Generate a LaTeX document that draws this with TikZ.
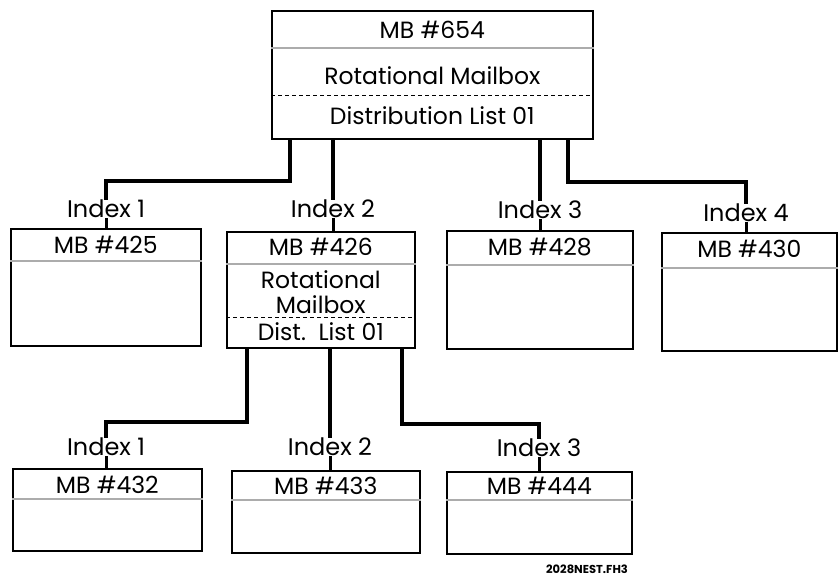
\documentclass[tikz,border=0pt]{standalone}
\usepackage{fontspec}
\setmainfont{Poppins}
\usepackage{tikz}

\tikzset{
  mbox/.style={draw, line width=1.6pt, anchor=north west, inner sep=0pt},
  title/.style={font=\fontsize{23.5}{25}\selectfont, inner sep=0pt},
  idxlabel/.style={font=\fontsize{24}{26}\selectfont, inner sep=0pt},
  link/.style={line width=4pt},
  tick/.style={line width=3pt},
  divider/.style={line width=1.6pt, gray!65},
  dashdiv/.style={line width=0.8pt, dash pattern=on 4pt off 3pt}
}

\begin{document}
\begin{tikzpicture}[x=1pt,y=-1pt]
        \useasboundingbox (0,0) rectangle (838,577);
        % Top mailbox
        \node[mbox, minimum width=321pt, minimum height=128pt] (mb654) at (271,10) {};
        \node[title] (t654) at ([yshift=-20pt]mb654.north) {MB \#654};
        \node[title] (r654) at ([yshift=-66pt]mb654.north) {Rotational Mailbox};
        \node[title] (d654) at ([yshift=-106pt]mb654.north) {Distribution List 01};
        \draw[divider] ([yshift=-38pt]mb654.north west) -- ([yshift=-38pt]mb654.north east);
        \draw[dashdiv] ([yshift=-85pt]mb654.north west) -- ([yshift=-85pt]mb654.north east);

        % Second row
        \node[mbox, minimum width=190pt, minimum height=117pt] (mb425) at (10,228) {};
        \node[title] (t425) at ([yshift=-17pt]mb425.north) {MB \#425};
        \draw[divider] ([yshift=-33pt]mb425.north west) -- ([yshift=-33pt]mb425.north east);

        \node[mbox, minimum width=188pt, minimum height=116pt] (mb426) at (226,231) {};
        \node[title] (t426) at ([yshift=-16pt]mb426.north) {MB \#426};
        \node[title, align=center] (r426) at ([yshift=-61pt]mb426.north) {Rotational\\Mailbox};
        \node[title] (d426) at ([yshift=-101pt]mb426.north) {Dist.\ \ List 01};
        \draw[divider] ([yshift=-33pt]mb426.north west) -- ([yshift=-33pt]mb426.north east);
        \draw[dashdiv] ([yshift=-86pt]mb426.north west) -- ([yshift=-86pt]mb426.north east);

        \node[mbox, minimum width=186pt, minimum height=118pt] (mb428) at (446,230) {};
        \node[title] (t428) at ([yshift=-17pt]mb428.north) {MB \#428};
        \draw[divider] ([yshift=-35pt]mb428.north west) -- ([yshift=-35pt]mb428.north east);

        \node[mbox, minimum width=175pt, minimum height=118pt] (mb430) at (661,232) {};
        \node[title] (t430) at ([yshift=-17pt]mb430.north) {MB \#430};
        \draw[divider] ([yshift=-36pt]mb430.north west) -- ([yshift=-36pt]mb430.north east);

        % Third row
        \node[mbox, minimum width=189pt, minimum height=82pt] (mb432) at (12,468) {};
        \node[title] (t432) at ([yshift=-17pt]mb432.north) {MB \#432};
        \draw[divider] ([yshift=-31pt]mb432.north west) -- ([yshift=-31pt]mb432.north east);

        \node[mbox, minimum width=188pt, minimum height=82pt] (mb433) at (231,470) {};
        \node[title] (t433) at ([yshift=-16pt]mb433.north) {MB \#433};
        \draw[divider] ([yshift=-30pt]mb433.north west) -- ([yshift=-30pt]mb433.north east);

        \node[mbox, minimum width=185pt, minimum height=82pt] (mb444) at (446,471) {};
        \node[title] (t444) at ([yshift=-15pt]mb444.north) {MB \#444};
        \draw[divider] ([yshift=-29pt]mb444.north west) -- ([yshift=-29pt]mb444.north east);

        % Index labels
        \node[idxlabel] (i1) at (106,209) {Index 1};
        \node[idxlabel] (i2) at (333,209) {Index 2};
        \node[idxlabel] (i3) at (540,210) {Index 3};
        \node[idxlabel] (i4) at (746,213) {Index 4};
        \node[idxlabel] (j1) at (106,447) {Index 1};
        \node[idxlabel] (j2) at (330,447) {Index 2};
        \node[idxlabel] (j3) at (539,448) {Index 3};

        % Connectors
        \draw[link] ([xshift=19pt]mb654.south west) -- ++(0,41) -| (i1.north);
        \draw[link] (mb654.south -| i2.north) -- (i2.north);
        \draw[link] (mb654.south -| i3.north) -- (i3.north);
        \draw[link] ([xshift=-26pt]mb654.south east) -- ++(0,42) -| (i4.north);
        \draw[link] ([xshift=21pt]mb426.south west) -- ++(0,73) -| (j1.north);
        \draw[link] (mb426.south -| j2.north) -- (j2.north);
        \draw[link] ([xshift=-14pt]mb426.south east) -- ++(0,75) -| (j3.north);

        \draw[tick] (i1.south) -- (i1.south |- mb425.north);
        \draw[tick] (i2.south) -- (i2.south |- mb426.north);
        \draw[tick] (i3.south) -- (i3.south |- mb428.north);
        \draw[tick] (i4.south) -- (i4.south |- mb430.north);
        \draw[tick] (j1.south) -- (j1.south |- mb432.north);
        \draw[tick] (j2.south) -- (j2.south |- mb433.north);
        \draw[tick] (j3.south) -- (j3.south |- mb444.north);

        \node[font=\fontsize{11.5}{12}\selectfont\bfseries, inner sep=0pt, anchor=base] (fname) at (587,573) {2028NEST.FH3};
\end{tikzpicture}
\end{document}
